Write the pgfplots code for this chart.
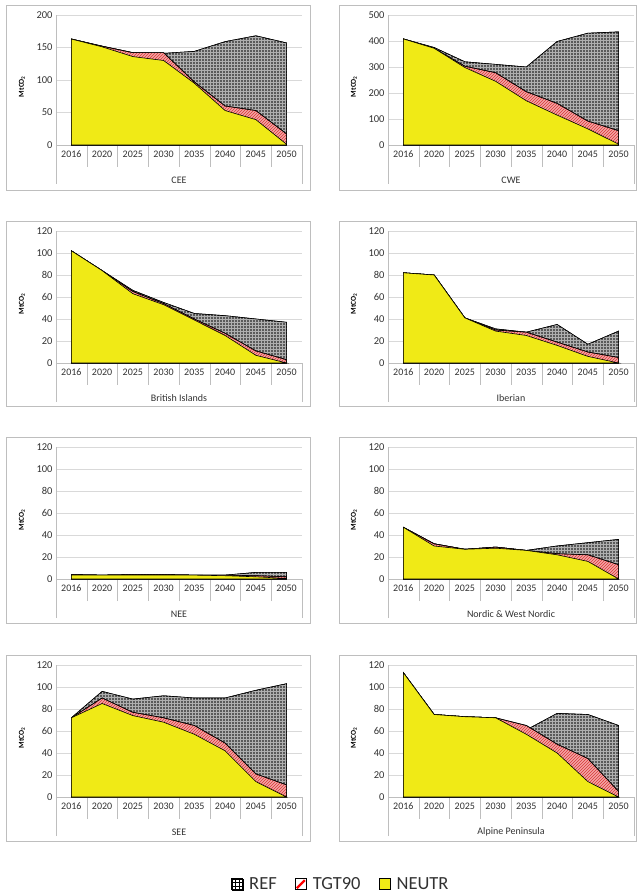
\documentclass[border=0pt]{standalone}
\usepackage{fontspec}
\setmainfont{Carlito}
\usepackage{pgfplots}
\pgfplotsset{compat=1.18}
\usetikzlibrary{patterns}
\definecolor{refgray}{RGB}{90,90,90}
\definecolor{refline}{RGB}{175,175,175}
\definecolor{tgtpink}{RGB}{245,165,165}
\definecolor{tgtline}{RGB}{215,55,55}
\definecolor{neuyel}{RGB}{240,234,22}
\definecolor{gridc}{RGB}{217,217,217}
\definecolor{framec}{RGB}{190,190,190}
\definecolor{txt}{RGB}{50,50,50}

\pgfplotsset{
 panel/.style={
  scale only axis, width=246pt, height=132pt, anchor=south west,
  xmin=-0.5, xmax=7.5, ymin=0,
  xtick={0,...,7}, xticklabels={2016,2020,2025,2030,2035,2040,2045,2050},
  minor xtick={-0.5,0.5,...,7.5},
  major tick length=0pt, minor tick length=22pt, tick align=outside,
  tick style={draw=framec},
  extra x ticks={-0.5,7.5}, extra x tick labels={},
  extra x tick style={major tick length=39pt, tick align=outside, tick style={draw=framec}},
  axis x line*=bottom, axis y line*=left,
  axis line style={draw=framec},
  ymajorgrids, grid style={draw=gridc},
  tick label style={font=\fontsize{10}{12}\selectfont, text=txt},
  yticklabel style={font=\fontsize{10.5}{12}\selectfont},
  /pgf/number format/assume math mode=true,
  ylabel={\textbf{MtCO\textsubscript{2}}},
  ylabel style={font=\fontsize{7.5}{9}\selectfont, at={(axis description cs:0,0.45)}, anchor=center, yshift=34pt},
  xlabel style={font=\fontsize{10}{12}\selectfont, text=txt, at={(axis description cs:0.5,0)}, anchor=center, yshift=-35pt},
  xticklabel style={yshift=-2pt},
  clip=false,
 },
 ref/.style={draw=black, line width=0.6pt, fill=refgray, postaction={pattern=grid, pattern color=refline}},
 tgt/.style={draw=black, line width=0.6pt, fill=tgtpink, postaction={pattern=north east lines, pattern color=tgtline}},
 neu/.style={draw=black, line width=0.6pt, fill=neuyel},
}

\begin{document}
\begin{tikzpicture}
\useasboundingbox (0pt,0pt) rectangle (637pt,895pt);
\draw[framec] (6pt,705pt) rectangle (310pt,890pt);
\draw[framec] (339pt,705pt) rectangle (636.5pt,890pt);
\draw[framec] (6pt,489pt) rectangle (310pt,674pt);
\draw[framec] (339pt,489pt) rectangle (636.5pt,674pt);
\draw[framec] (6pt,272pt) rectangle (310pt,458pt);
\draw[framec] (339pt,272pt) rectangle (636.5pt,458pt);
\draw[framec] (6pt,54pt) rectangle (310pt,240pt);
\draw[framec] (339pt,54pt) rectangle (636.5pt,240pt);

% CEE
\begin{axis}[panel, at={(56pt,750pt)}, height=130pt, ymax=200, ytick={0,50,...,200}, xlabel={CEE}]
\addplot[ref] coordinates {(0,163) (1,152) (2,142) (3,141) (4,144) (5,159) (6,168) (7,157)} \closedcycle;
\addplot[tgt] coordinates {(0,163) (1,152) (2,142) (3,142) (4,97) (5,60) (6,53) (7,17)} \closedcycle;
\addplot[neu] coordinates {(0,163) (1,151) (2,136) (3,130) (4,95) (5,53) (6,39) (7,1)} \closedcycle;
\end{axis}

% CWE
\begin{axis}[panel, at={(388pt,750pt)}, height=130pt, ymax=500, ytick={0,100,...,500}, xlabel={CWE}]
\addplot[ref] coordinates {(0,408) (1,375) (2,320) (3,310) (4,300) (5,398) (6,430) (7,435)} \closedcycle;
\addplot[tgt] coordinates {(0,408) (1,372) (2,303) (3,278) (4,205) (5,160) (6,92) (7,55)} \closedcycle;
\addplot[neu] coordinates {(0,408) (1,372) (2,298) (3,245) (4,170) (5,115) (6,62) (7,3)} \closedcycle;
\end{axis}

% British Islands
\begin{axis}[panel, at={(56pt,532pt)}, ymax=120, ytick={0,20,...,120}, xlabel={British Islands}]
\addplot[ref] coordinates {(0,102) (1,84) (2,66) (3,55) (4,45) (5,43) (6,40) (7,37)} \closedcycle;
\addplot[tgt] coordinates {(0,102) (1,84) (2,65) (3,54) (4,40) (5,27) (6,11) (7,3)} \closedcycle;
\addplot[neu] coordinates {(0,102) (1,84) (2,63) (3,53) (4,39) (5,25) (6,7) (7,0)} \closedcycle;
\end{axis}

% Iberian
\begin{axis}[panel, at={(388pt,532pt)}, ymax=120, ytick={0,20,...,120}, xlabel={Iberian}]
\addplot[ref] coordinates {(0,82) (1,80) (2,41) (3,31) (4,28) (5,35) (6,17) (7,29)} \closedcycle;
\addplot[tgt] coordinates {(0,82) (1,80) (2,41) (3,30) (4,28) (5,19) (6,10) (7,5)} \closedcycle;
\addplot[neu] coordinates {(0,82) (1,80) (2,41) (3,29) (4,25) (5,16) (6,6) (7,0)} \closedcycle;
\end{axis}

% NEE
\begin{axis}[panel, at={(56pt,316pt)}, ymax=120, ytick={0,20,...,120}, xlabel={NEE}]
\addplot[ref] coordinates {(0,4) (1,3.5) (2,4) (3,4) (4,3.5) (5,3.5) (6,6) (7,6)} \closedcycle;
\addplot[tgt] coordinates {(0,4) (1,3.5) (2,4) (3,4) (4,3.5) (5,3.5) (6,3) (7,2)} \closedcycle;
\addplot[neu] coordinates {(0,3.5) (1,3.5) (2,3.5) (3,3.5) (4,3.5) (5,3) (6,2) (7,0.5)} \closedcycle;
\end{axis}

% Nordic
\begin{axis}[panel, at={(388pt,316pt)}, ymax=120, ytick={0,20,...,120}, xlabel={Nordic \& West Nordic}]
\addplot[ref] coordinates {(0,47) (1,32) (2,27) (3,29) (4,26) (5,30) (6,33) (7,36)} \closedcycle;
\addplot[tgt] coordinates {(0,47) (1,32) (2,27) (3,29) (4,26) (5,23) (6,22) (7,13)} \closedcycle;
\addplot[neu] coordinates {(0,47) (1,30) (2,27) (3,28) (4,26) (5,22) (6,16) (7,0)} \closedcycle;
\end{axis}

% SEE
\begin{axis}[panel, at={(56pt,98pt)}, ymax=120, ytick={0,20,...,120}, xlabel={SEE},
  legend style={at={(axis description cs:1.158,-0.661)}, anchor=center, draw=none, fill=none,
    font=\fontsize{18.5}{22}\selectfont, text=txt, legend columns=3,
    /tikz/every odd column/.append style={column sep=4pt},
    /tikz/every even column/.append style={column sep=16pt}}]
\addlegendimage{legend image code/.code={
  \draw[black,fill=white] (0pt,-5.5pt) rectangle (11pt,5.5pt);
  \draw[black] (3.67pt,-5.5pt)--(3.67pt,5.5pt) (7.33pt,-5.5pt)--(7.33pt,5.5pt) (0pt,-1.83pt)--(11pt,-1.83pt) (0pt,1.83pt)--(11pt,1.83pt);
  \draw[black,line width=1pt] (0pt,-5.5pt) rectangle (11pt,5.5pt);}}
\addlegendimage{legend image code/.code={
  \fill[white] (0pt,-5.5pt) rectangle (11pt,5.5pt);
  \draw[red,line width=2.2pt] (1.5pt,-4pt)--(9.5pt,4pt);
  \draw[black,line width=1pt] (0pt,-5.5pt) rectangle (11pt,5.5pt);}}
\addlegendimage{legend image code/.code={
  \draw[black,line width=1pt,fill=neuyel] (0pt,-5.5pt) rectangle (11pt,5.5pt);}}
\addplot[ref] coordinates {(0,72) (1,96) (2,89) (3,92) (4,90) (5,90) (6,97) (7,103)} \closedcycle;
\addplot[tgt] coordinates {(0,72) (1,90) (2,77) (3,72) (4,65) (5,49) (6,21) (7,11)} \closedcycle;
\addplot[neu] coordinates {(0,72) (1,85) (2,74) (3,68) (4,57) (5,42) (6,14) (7,0)} \closedcycle;
\legend{REF,TGT90,NEUTR}
\end{axis}

% Alpine Peninsula
\begin{axis}[panel, at={(388pt,98pt)}, ymax=120, ytick={0,20,...,120}, xlabel={Alpine Peninsula}]
\addplot[ref] coordinates {(0,113) (1,75) (2,73) (3,72) (4,61) (5,76) (6,75) (7,65)} \closedcycle;
\addplot[tgt] coordinates {(0,113) (1,75) (2,73) (3,72) (4,65) (5,48) (6,35) (7,5)} \closedcycle;
\addplot[neu] coordinates {(0,113) (1,75) (2,73) (3,72) (4,57) (5,40) (6,14) (7,0)} \closedcycle;
\end{axis}
\end{tikzpicture}
\end{document}
